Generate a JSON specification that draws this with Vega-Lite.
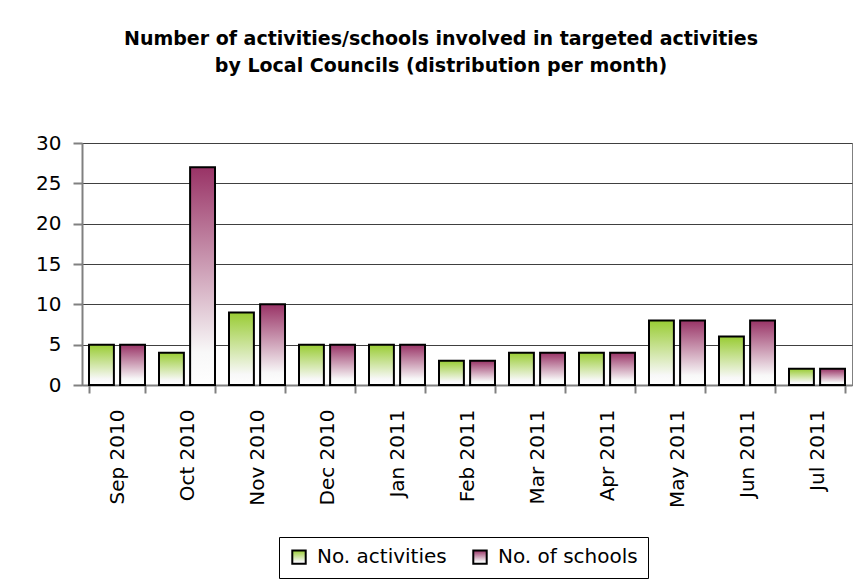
{
  "$schema": "https://vega.github.io/schema/vega-lite/v6.json",
  "width": 770,
  "height": 242,
  "autosize": "none",
  "padding": {"left": 82, "top": 143, "right": 11, "bottom": 201},
  "background": "white",
  "title": {
    "text": ["Number of activities/schools involved in targeted activities", "by Local Councils (distribution per month)"],
    "font": "DejaVu Sans",
    "fontSize": 19,
    "fontWeight": "bold",
    "color": "black",
    "anchor": "middle",
    "baseline": "alphabetic",
    "lineHeight": 27,
    "offset": 42,
    "dx": -26
  },
  "data": {
    "values": [
      {"month": "Sep 2010", "series": "No. activities", "value": 5},
      {"month": "Sep 2010", "series": "No. of schools", "value": 5},
      {"month": "Oct 2010", "series": "No. activities", "value": 4},
      {"month": "Oct 2010", "series": "No. of schools", "value": 27},
      {"month": "Nov 2010", "series": "No. activities", "value": 9},
      {"month": "Nov 2010", "series": "No. of schools", "value": 10},
      {"month": "Dec 2010", "series": "No. activities", "value": 5},
      {"month": "Dec 2010", "series": "No. of schools", "value": 5},
      {"month": "Jan 2011", "series": "No. activities", "value": 5},
      {"month": "Jan 2011", "series": "No. of schools", "value": 5},
      {"month": "Feb 2011", "series": "No. activities", "value": 3},
      {"month": "Feb 2011", "series": "No. of schools", "value": 3},
      {"month": "Mar 2011", "series": "No. activities", "value": 4},
      {"month": "Mar 2011", "series": "No. of schools", "value": 4},
      {"month": "Apr 2011", "series": "No. activities", "value": 4},
      {"month": "Apr 2011", "series": "No. of schools", "value": 4},
      {"month": "May 2011", "series": "No. activities", "value": 8},
      {"month": "May 2011", "series": "No. of schools", "value": 8},
      {"month": "Jun 2011", "series": "No. activities", "value": 6},
      {"month": "Jun 2011", "series": "No. of schools", "value": 8},
      {"month": "Jul 2011", "series": "No. activities", "value": 2},
      {"month": "Jul 2011", "series": "No. of schools", "value": 2}
    ]
  },
  "mark": {"type": "bar", "stroke": "black", "strokeWidth": 2},
  "encoding": {
    "x": {
      "field": "month",
      "type": "nominal",
      "sort": null,
      "scale": {"paddingInner": 0.2, "paddingOuter": 0.1},
      "axis": {
        "title": null,
        "labelAngle": -90,
        "labelFontSize": 20,
        "labelFont": "DejaVu Sans",
        "labelColor": "black",
        "labelPadding": 16,
        "tickBand": "extent",
        "tickSize": 8,
        "tickColor": "#808080",
        "tickWidth": 2,
        "domainColor": "#808080",
        "domainWidth": 2
      }
    },
    "xOffset": {
      "field": "series",
      "type": "nominal",
      "scale": {"paddingInner": 0.2, "paddingOuter": 0}
    },
    "y": {
      "field": "value",
      "type": "quantitative",
      "scale": {"domain": [0, 30], "nice": false},
      "axis": {
        "title": null,
        "values": [0, 5, 10, 15, 20, 25, 30],
        "labelFontSize": 20,
        "labelFont": "DejaVu Sans",
        "labelColor": "black",
        "labelPadding": 12,
        "tickSize": 9,
        "tickColor": "#808080",
        "tickWidth": 2,
        "domainColor": "#808080",
        "domainWidth": 2,
        "grid": true,
        "gridColor": "#404040",
        "gridWidth": 1
      }
    },
    "color": {
      "field": "series",
      "type": "nominal",
      "scale": {
        "domain": ["No. activities", "No. of schools"],
        "range": [
          {"expr": "{gradient: 'linear', x1: 0, y1: 0, x2: 0, y2: 1, stops: [{offset: 0, color: '#99cc33'}, {offset: 0.85, color: '#f8f8f8'}, {offset: 1, color: '#ffffff'}]}"},
          {"expr": "{gradient: 'linear', x1: 0, y1: 0, x2: 0, y2: 1, stops: [{offset: 0, color: '#993366'}, {offset: 0.85, color: '#f8f8f8'}, {offset: 1, color: '#ffffff'}]}"}
        ]
      },
      "legend": {
        "title": null,
        "orient": "none",
        "legendX": 197,
        "legendY": 394,
        "direction": "horizontal",
        "strokeColor": "black",
        "padding": 10,
        "symbolType": "square",
        "symbolSize": 180,
        "symbolStrokeColor": "black",
        "symbolStrokeWidth": 2,
        "symbolOpacity": 1,
        "labelFontSize": 20,
        "labelFont": "DejaVu Sans",
        "labelColor": "black",
        "labelLimit": 300,
        "labelOffset": 8,
        "columnPadding": 22
      }
    }
  },
  "config": {
    "font": "DejaVu Sans",
    "view": {"stroke": "#808080", "strokeWidth": 1}
  }
}
